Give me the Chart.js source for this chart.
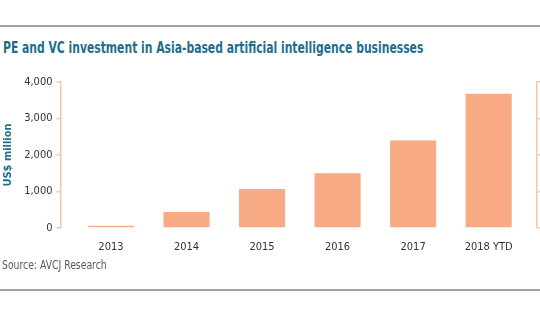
<!DOCTYPE html>
<html>
<head>
<meta charset="utf-8">
<script src="https://cdn.jsdelivr.net/npm/chart.js@4"></script>
<style>
  html, body { margin: 0; padding: 0; background: #fff; }
  body { width: 540px; height: 334px; position: relative; overflow: hidden;
         font-family: "DejaVu Sans Condensed", "Liberation Sans Narrow", sans-serif; }
  .rule { position: absolute; left: 0; width: 540px; height: 2px; background: #a3a3a3; }
  #title { position: absolute; left: 3px; top: 38px; font-size: 16px; font-weight: bold;
           color: #1f6e8c; white-space: nowrap; transform: scaleX(0.75); transform-origin: 0 0; }
  #source { position: absolute; left: 2px; top: 258px; font-size: 12px; color: #5a5a5a;
            white-space: nowrap; transform: scaleX(0.86); transform-origin: 0 0; }
  #wrap { position: absolute; left: 0; top: 0; width: 540px; height: 334px; }
</style>
</head>
<body>
<div class="rule" style="top:25px"></div>
<div id="title">PE and VC investment in Asia-based artificial intelligence businesses</div>
<div id="wrap"><canvas id="investChart"></canvas></div>
<div id="source">Source: AVCJ Research</div>
<div class="rule" style="top:289px"></div>

<script>
// Data
const years = ['2013', '2014', '2015', '2016', '2017', '2018 YTD'];
const investment = [60, 440, 1070, 1500, 2400, 3680];   // US$ million
const yTicks = [0, 1000, 2000, 3000, 4000];

const axisColor = '#f5c6ac';
const textFont = { family: '"DejaVu Sans Condensed", "Liberation Sans Narrow", sans-serif', size: 11 };

const ctx = document.getElementById('investChart').getContext('2d');
const investChart = new Chart(ctx, {
    type: 'bar',
    data: {
        datasets: [{
            label: 'Investment',
            data: investment.map((v, i) => ({ x: i, y: v })),
            backgroundColor: '#f7aa84',
            borderWidth: 0,
            barPercentage: 0.61,
            categoryPercentage: 1
        }]
    },
    options: {
        responsive: true,
        maintainAspectRatio: false,
        animation: false,
        layout: { padding: { top: 82, left: 0, right: 0, bottom: 0 } },
        plugins: {
            legend: { display: false },
            tooltip: { enabled: false }
        },
        scales: {
            x: {
                type: 'linear',
                offset: false,
                min: -0.668,
                max: 5.64,
                grid: { display: false, drawTicks: false, offset: false },
                border: { display: false },
                ticks: {
                    stepSize: 1,
                    includeBounds: false,
                    autoSkip: false,
                    maxRotation: 0,
                    padding: 13,
                    color: '#333',
                    font: textFont,
                    callback: (v) => Number.isInteger(v) ? (years[v] || '') : ''
                },
                afterFit: (scale) => { scale.height = 106; }
            },
            y: {
                position: 'left',
                min: 0,
                max: 4000,
                afterBuildTicks: (scale) => { scale.ticks = yTicks.map(v => ({ value: v })); },
                grid: { drawOnChartArea: false, tickLength: 4, color: axisColor, lineWidth: 1.5 },
                border: { color: axisColor, width: 1.5 },
                ticks: {
                    padding: 4,
                    color: '#333',
                    font: textFont,
                    callback: (v) => v.toLocaleString('en-US')
                },
                title: {
                    display: true,
                    text: 'US$ million',
                    color: '#1f6e8c',
                    font: { family: textFont.family, size: 11, weight: '600' },
                    padding: { top: 2, bottom: 0 }
                },
                afterFit: (scale) => { scale.width = 60.5; }
            },
            y2: {
                position: 'right',
                min: 0,
                max: 4000,
                afterBuildTicks: (scale) => { scale.ticks = yTicks.map(v => ({ value: v })); },
                grid: { drawOnChartArea: false, tickLength: 3, color: axisColor, lineWidth: 1.5 },
                border: { color: axisColor, width: 1.5 },
                ticks: { display: false },
                afterFit: (scale) => { scale.width = 3; }
            }
        }
    }
});
</script>
</body>
</html>
